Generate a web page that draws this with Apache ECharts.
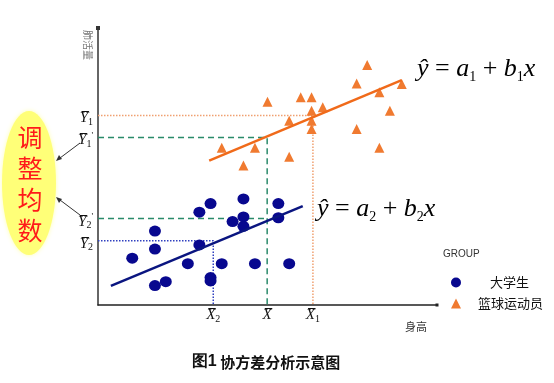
<!DOCTYPE html>
<html><head><meta charset="utf-8">
<script src="https://cdn.jsdelivr.net/npm/echarts@6/dist/echarts.min.js"></script>
<style>html,body{margin:0;padding:0;background:#fff}#c{width:554px;height:383px}</style>
</head><body><div id="c"></div>
<script>
// ---- data (arbitrary units 0..100) ----
const studentPoints = [
  [10.1,16.9],[16.8,26.7],[16.8,20.2],[16.8,7.0],[20.0,8.4],[26.5,14.9],
  [29.9,33.5],[29.9,21.7],[33.2,36.6],[33.2,9.9],[33.2,8.7],[36.5,14.9],
  [39.7,30.1],[42.9,38.3],[42.9,31.8],[42.9,28.4],[46.3,14.9],[53.2,36.6],
  [53.2,31.5],[56.4,14.9]
];
const athletePoints = [
  [50.0,73.4],[59.8,75.0],[63.0,75.0],[63.0,70.1],[66.3,71.4],[56.4,66.5],
  [63.0,66.5],[63.0,63.5],[76.3,80.0],[79.4,86.6],[83.0,76.8],[89.6,79.8],
  [86.1,70.1],[76.3,63.5],[83.0,56.8],[56.4,53.5],[36.5,56.8],[46.3,56.8],
  [42.9,50.4]
];
const studentFit = [[3.8,6.9],[60.4,35.7]];
const athleteFit = [[32.8,52.1],[89.6,81.2]];
const meanX2 = 34.0, meanX = 49.9, meanX1 = 63.4;
const meanY1 = 68.4, adjY1 = 60.5, adjY2 = 31.2, meanY2 = 23.2;
const xTickValues = [meanX2, meanX, meanX1];
const xTickLabels = ['{m|X\u0305}{s|2}', '{m|X\u0305}', '{m|X\u0305}{s|1}'];
const yTickValues = [meanY1, adjY1, adjY2, meanY2];
const yTickLabels = ['{m|Y\u0305}{s|1}', '{m|Y\u0305}{s|1}{p|\'}', '{m|Y\u0305}{s|2}{p|\'}', '{m|Y\u0305}{s|2}'];
const seriesNames = ['大学生', '篮球运动员'];
const yAxisName = '肺活量';
const xAxisName = '身高';
const legendTitle = 'GROUP';
const adjustText = '调整均数';
const caption = ['图1', ' 协方差分析示意图'];

// ---- helpers ----
function nearestLabel(vals, labels, v) {
  let best = 0;
  for (let i = 1; i < vals.length; i++) if (Math.abs(vals[i]-v) < Math.abs(vals[best]-v)) best = i;
  return labels[best];
}
const serif = 'Liberation Serif, DejaVu Serif, serif';
const cjk = 'Noto Sans CJK SC, sans-serif';
const tickRich = {
  m: {fontFamily: serif, fontStyle: 'italic', fontSize: 15, color: '#111', lineHeight: 18},
  s: {fontFamily: serif, fontSize: 10, color: '#111', verticalAlign: 'bottom', lineHeight: 10},
  p: {fontFamily: serif, fontSize: 9, color: '#111', verticalAlign: 'top', lineHeight: 9}
};
const eqRich = {
  i: {fontFamily: serif, fontStyle: 'italic', fontSize: 26, color: '#000', lineHeight: 30},
  n: {fontFamily: serif, fontSize: 26, color: '#000', lineHeight: 30},
  s: {fontFamily: serif, fontSize: 14, color: '#000', verticalAlign: 'bottom', lineHeight: 14}
};

const chart = echarts.init(document.getElementById('c'), null, {renderer: 'canvas'});

const blue = '#08088f', orange = '#f07a30', green = '#2a8a6a';

chart.setOption({
  animation: false,
  backgroundColor: '#fff',
  grid: {left: 98, right: 117, top: 28, bottom: 78, containLabel: false},
  xAxis: {
    type: 'value', min: 0, max: 100,
    splitLine: {show: false},
    axisLine: {show: true, lineStyle: {color: '#222', width: 1.5}, symbol: ['none', 'rect'], symbolSize: [3, 3]},
    axisTick: {show: false},
    axisLabel: {
      customValues: xTickValues, margin: 1,
      formatter: v => nearestLabel(xTickValues, xTickLabels, v),
      rich: tickRich
    }
  },
  yAxis: {
    type: 'value', min: 0, max: 100,
    splitLine: {show: false},
    axisLine: {show: true, lineStyle: {color: '#333', width: 1.5}, symbol: ['none', 'rect'], symbolSize: [4, 4]},
    axisTick: {show: false},
    axisLabel: {
      customValues: yTickValues, margin: 5, padding: [6, 0, 0, 0],
      formatter: v => nearestLabel(yTickValues, yTickLabels, v),
      rich: tickRich
    }
  },
  legend: {
    orient: 'vertical', left: 446, top: 271, itemGap: 8,
    itemWidth: 10, itemHeight: 10,
    textStyle: {fontFamily: cjk, fontSize: 13, color: '#111'},
    data: [
      {name: seriesNames[0], icon: 'circle', textStyle: {padding: [0, 0, 0, 24]}},
      {name: seriesNames[1], icon: 'triangle', textStyle: {padding: [0, 0, 0, 12]}}
    ]
  },
  series: [
    {type: 'line', data: [[0, meanY1], [meanX1, meanY1], [meanX1, 0]], symbol: 'none', silent: true, z: 1,
      lineStyle: {color: '#f0a070', width: 1.5, type: [1.5, 1.5]}},
    {type: 'line', data: [[0, adjY1], [meanX, adjY1], [meanX, 0]], symbol: 'none', silent: true, z: 1,
      lineStyle: {color: green, width: 1.5, type: [6, 4]}},
    {type: 'line', data: [[0, adjY2], [meanX, adjY2]], symbol: 'none', silent: true, z: 1,
      lineStyle: {color: green, width: 1.5, type: [6, 4]}},
    {type: 'line', data: [[0, meanY2], [meanX2, meanY2], [meanX2, 0]], symbol: 'none', silent: true, z: 1,
      lineStyle: {color: '#3040c0', width: 1.5, type: [1.5, 1.5]}},
    {name: seriesNames[0], type: 'scatter', data: studentPoints, symbol: 'circle', symbolSize: [12, 11], z: 3,
      itemStyle: {color: blue, opacity: 1}},
    {name: seriesNames[1], type: 'scatter', data: athletePoints, symbol: 'triangle', symbolSize: 10, z: 3,
      itemStyle: {color: orange, opacity: 1}},
    {type: 'line', data: studentFit, symbol: 'none', z: 4, lineStyle: {color: '#0a1580', width: 2.5}},
    {type: 'line', data: athleteFit, symbol: 'none', z: 4, lineStyle: {color: '#f06a1a', width: 2.5}}
  ],
  graphic: [
    {type: 'ellipse', shape: {cx: 29, cy: 183, rx: 27, ry: 72}, z: 0,
      style: {fill: '#ffff78', shadowBlur: 4, shadowColor: 'rgba(255,255,170,0.9)'}},
    {type: 'text', x: 30, y: 184, z: 1,
      style: {text: adjustText.split('').join('\n'), font: '25px ' + cjk, lineHeight: 31,
        fill: '#ff1a1a', align: 'center', verticalAlign: 'middle'}},
    {type: 'line', shape: {x1: 80, y1: 143, x2: 60, y2: 158}, style: {stroke: '#333', lineWidth: 1}},
    {type: 'polygon', shape: {points: [[56, 161], [59, 155], [62, 159]]}, style: {fill: '#333'}},
    {type: 'line', shape: {x1: 80, y1: 215, x2: 60, y2: 200}, style: {stroke: '#333', lineWidth: 1}},
    {type: 'polygon', shape: {points: [[56, 197], [62, 199], [59, 203]]}, style: {fill: '#333'}},
    {type: 'text', x: 88, y: 30, rotation: -Math.PI / 2,
      style: {text: yAxisName, font: '10px ' + cjk, fill: '#777', align: 'left', verticalAlign: 'middle'}},
    {type: 'text', x: 405, y: 327,
      style: {text: xAxisName, font: '11px ' + cjk, fill: '#333', align: 'left', verticalAlign: 'middle'}},
    {type: 'text', x: 443, y: 254,
      style: {text: legendTitle, font: '10px Liberation Sans, Arial, sans-serif', fill: '#333', align: 'left', verticalAlign: 'middle'}},
    {type: 'text', x: 417, y: 69,
      style: {text: '{i|ŷ}{n| = }{i|a}{s|1}{n| + }{i|b}{s|1}{i|x}', rich: eqRich, align: 'left', verticalAlign: 'middle'}},
    {type: 'text', x: 317, y: 209,
      style: {text: '{i|ŷ}{n| = }{i|a}{s|2}{n| + }{i|b}{s|2}{i|x}', rich: eqRich, align: 'left', verticalAlign: 'middle'}},
    {type: 'text', x: 266, y: 362,
      style: {text: '{a|' + caption[0] + '}{b|' + caption[1] + '}', align: 'center', verticalAlign: 'middle',
        rich: {a: {font: 'bold 16px Liberation Sans, Arial, sans-serif', fill: '#111'},
               b: {font: 'bold 15px ' + cjk, fill: '#111'}}}}
  ]
});
</script></body></html>
